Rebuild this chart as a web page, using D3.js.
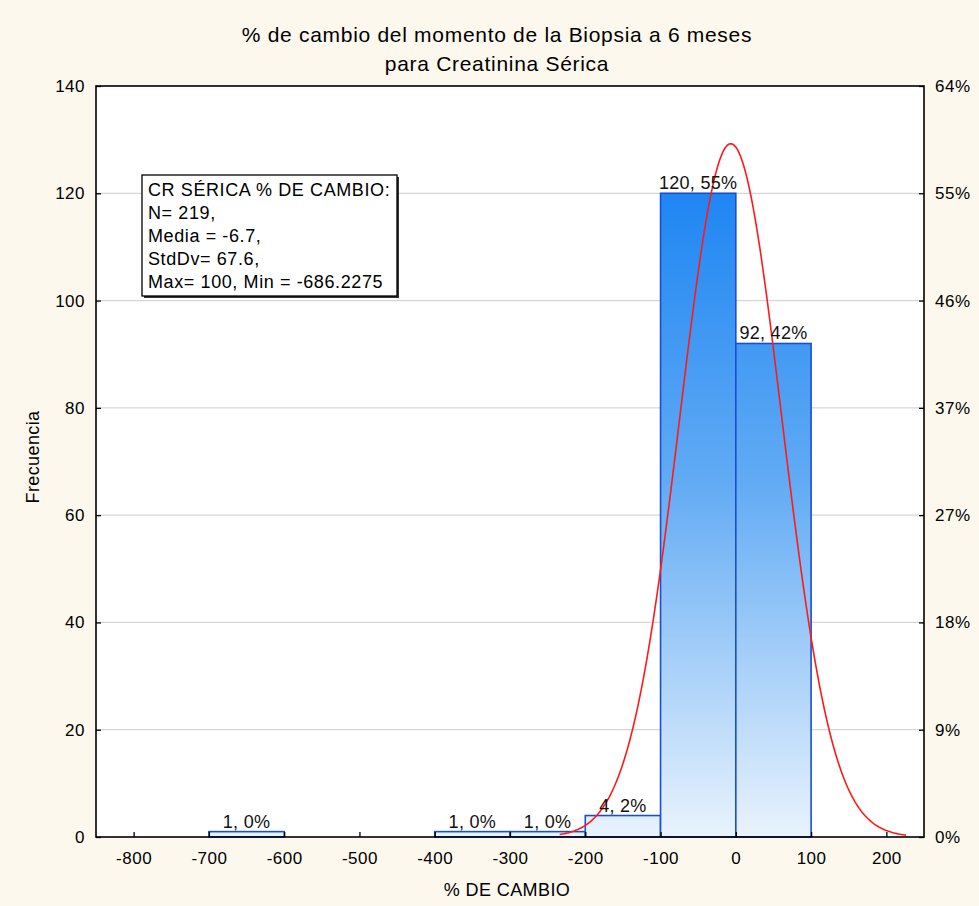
<!DOCTYPE html>
<html>
<head>
<meta charset="utf-8">
<script src="https://cdn.jsdelivr.net/npm/d3@7"></script>
<style>
  html, body { margin: 0; padding: 0; background: #fdf8ed; }
  svg { display: block; font-family: "Liberation Sans", Arial, sans-serif; }
</style>
</head>
<body>
<script>
// ---- Data ----
const binStarts = [-700, -400, -300, -200, -100, 0];
const binWidth = 100;
const counts = [1, 1, 1, 4, 120, 92];
const barLabels = ["1, 0%", "1, 0%", "1, 0%", "4, 2%", "120, 55%", "92, 42%"];
const xTicks = [-800, -700, -600, -500, -400, -300, -200, -100, 0, 100, 200];
const yTicks = [0, 20, 40, 60, 80, 100, 120, 140];
const rightTickLabels = ["0%", "9%", "18%", "27%", "37%", "46%", "55%", "64%"];
const statsLines = ["CR SÉRICA % DE CAMBIO:", "N= 219,", "Media = -6.7,", "StdDv= 67.6,", "Max= 100, Min = -686.2275"];
const nTotal = 219, meanVal = -6.7, sdVal = 67.6;
const curveRange = [-234, 226];
const titleLines = ["% de cambio del momento de la Biopsia a 6 meses", "para Creatinina Sérica"];

// ---- Layout ----
const W = 979, H = 906;
const plot = { left: 96, right: 924, top: 86, bottom: 837 };
const FONT = "'Liberation Sans', Arial, sans-serif";

const svg = d3.select("body").append("svg").attr("width", W).attr("height", H);
svg.append("rect").attr("width", W).attr("height", H).attr("fill", "#fdf8ed");

const x = d3.scaleLinear().domain([-850, 250]).range([plot.left, plot.right]);
const y = d3.scaleLinear().domain([0, 140]).range([plot.bottom, plot.top]);

// plot background
svg.append("rect").attr("x", plot.left).attr("y", plot.top)
  .attr("width", plot.right - plot.left).attr("height", plot.bottom - plot.top)
  .attr("fill", "#ffffff");

// gridlines
svg.append("g").selectAll("line").data(yTicks.filter(d => d > 0 && d < 140)).join("line")
  .attr("x1", plot.left).attr("x2", plot.right)
  .attr("y1", d => y(d)).attr("y2", d => y(d))
  .attr("stroke", "#d6d6d6").attr("stroke-width", 1.3);

// gradient
const defs = svg.append("defs");
const grad = defs.append("linearGradient").attr("id", "barGrad")
  .attr("gradientUnits", "userSpaceOnUse")
  .attr("x1", 0).attr("x2", 0).attr("y1", y(120)).attr("y2", y(0));
grad.append("stop").attr("offset", "0%").attr("stop-color", "#1f86f3");
grad.append("stop").attr("offset", "45%").attr("stop-color", "#62abf4");
grad.append("stop").attr("offset", "100%").attr("stop-color", "#e9f3fd");

const bars = binStarts.map((s, i) => ({ s, c: counts[i], label: barLabels[i] }));

svg.append("g").selectAll("rect").data(bars).join("rect")
  .attr("x", d => x(d.s)).attr("width", d => x(d.s + binWidth) - x(d.s))
  .attr("y", d => y(d.c)).attr("height", d => y(0) - y(d.c))
  .attr("fill", "url(#barGrad)").attr("stroke", "#1a4ed2").attr("stroke-width", 1.6);

// normal curve (fitted from the stated mean / sd)
const curvePts = d3.range(curveRange[0], curveRange[1] + 0.1, 2).map(v => {
  const z = (v - meanVal) / sdVal;
  return [v, nTotal * binWidth * Math.exp(-0.5 * z * z) / (sdVal * Math.sqrt(2 * Math.PI))];
});
svg.append("path").datum(curvePts)
  .attr("d", d3.line().x(d => x(d[0])).y(d => y(d[1])))
  .attr("fill", "none").attr("stroke", "#ff1a1a").attr("stroke-width", 1.6);

// bar labels
svg.append("g").selectAll("text").data(bars).join("text")
  .attr("x", d => x(d.s + binWidth / 2)).attr("y", d => y(d.c) - 4)
  .attr("text-anchor", "middle").attr("font-size", 18).attr("letter-spacing", 0.3)
  .attr("fill", "#111").text(d => d.label);

// frame
svg.append("rect").attr("x", plot.left).attr("y", plot.top)
  .attr("width", plot.right - plot.left).attr("height", plot.bottom - plot.top)
  .attr("fill", "none").attr("stroke", "#000").attr("stroke-width", 1.6);

// axes (ticks inward)
const fmt = d => String(d);
const leftAxis = d3.axisLeft(y).tickValues(yTicks).tickSize(-5).tickPadding(11).tickFormat(fmt);
const gL = svg.append("g").attr("transform", `translate(${plot.left},0)`).call(leftAxis);
const rightAxis = d3.axisRight(y).tickValues(yTicks).tickSize(-5).tickPadding(11)
  .tickFormat((d, i) => rightTickLabels[i]);
const gR = svg.append("g").attr("transform", `translate(${plot.right},0)`).call(rightAxis);
const bottomAxis = d3.axisBottom(x).tickValues(xTicks).tickSize(-5).tickPadding(15).tickFormat(fmt);
const gB = svg.append("g").attr("transform", `translate(0,${plot.bottom})`).call(bottomAxis);
[gL, gR, gB].forEach(g => {
  g.select(".domain").remove();
  g.selectAll(".tick line").attr("stroke", "#000").attr("stroke-width", 1.3);
  g.selectAll(".tick text").attr("font-size", 17).attr("letter-spacing", 0.5).attr("fill", "#000")
    .attr("font-family", FONT);
});

// titles
svg.append("g").selectAll("text").data(titleLines).join("text")
  .attr("x", 497).attr("y", (d, i) => 42 + i * 28.5)
  .attr("text-anchor", "middle").attr("font-size", 21).attr("letter-spacing", 0.7)
  .attr("fill", "#000").text(d => d);

svg.append("text").attr("x", 507).attr("y", 896).attr("text-anchor", "middle")
  .attr("font-size", 18).attr("letter-spacing", 0.4).attr("fill", "#000").text("% DE CAMBIO");

svg.append("text").attr("transform", "translate(39,457) rotate(-90)")
  .attr("text-anchor", "middle").attr("font-size", 18).attr("letter-spacing", 0.4)
  .attr("fill", "#000").text("Frecuencia");

// stats box
const bx = 142, by = 175, bw = 255, bh = 121;
svg.append("rect").attr("x", bx + 2).attr("y", by + 2).attr("width", bw).attr("height", bh).attr("fill", "#333");
svg.append("rect").attr("x", bx).attr("y", by).attr("width", bw).attr("height", bh)
  .attr("fill", "#fff").attr("stroke", "#000").attr("stroke-width", 1.3);
svg.append("g").selectAll("text").data(statsLines).join("text")
  .attr("x", bx + 6).attr("y", (d, i) => by + 21 + i * 23)
  .attr("font-size", 18).attr("letter-spacing", 0.6).attr("fill", "#000").text(d => d);
</script>
</body>
</html>
